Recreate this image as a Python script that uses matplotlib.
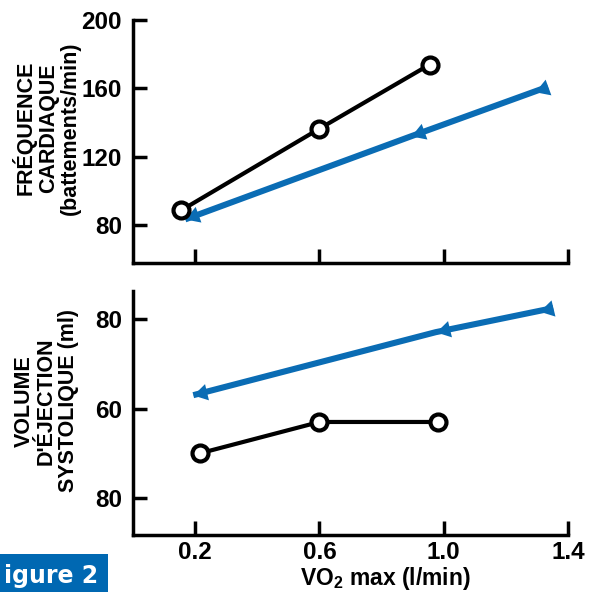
import numpy as np
import matplotlib
matplotlib.use("Agg")
import matplotlib.pyplot as plt
from matplotlib.markers import MarkerStyle
from matplotlib.path import Path
from matplotlib.transforms import Affine2D
from matplotlib.patches import Rectangle

# ---- data ----
xticks = [0.2, 0.6, 1.0, 1.4]
xtick_labels = ["0.2", "0.6", "1.0", "1.4"]

# top panel: heart rate
hr_black_x = [0.155, 0.6, 0.955]
hr_black_y = [88.8, 136.5, 174]
hr_blue_x = [1.335, 0.894, 0.168]
hr_blue_y = [161, 132, 83.5]
hr_ticks = [80, 120, 160, 200]
hr_tick_labels = ["80", "120", "160", "200"]

# bottom panel: stroke volume
sv_black_x = [0.216, 0.6, 0.98]
sv_black_y = [50, 57, 57]
sv_blue_x = [1.352, 0.974, 0.194]
sv_blue_y = [82.5, 77.1, 63]
sv_ticks = [80, 60, 40]
sv_tick_labels = ["80", "60", "80"]

BLUE = "#0a6cb4"
FONT = "Liberation Sans"
plt.rcParams["font.family"] = [FONT, "DejaVu Sans"]
plt.rcParams["font.weight"] = "bold"
plt.rcParams["font.stretch"] = "condensed"
plt.rcParams["mathtext.fontset"] = "custom"
plt.rcParams["mathtext.rm"] = FONT + ":weight=bold:stretch=condensed"
plt.rcParams["mathtext.bf"] = FONT + ":weight=bold:stretch=condensed"

fig = plt.figure(figsize=(5.96, 5.92), dpi=100)
ax1 = fig.add_axes([0.2232, 0.5557, 0.7299, 0.4105])
ax2 = fig.add_axes([0.2232, 0.0963, 0.7299, 0.4120])

ax1.set_ylim(58, 200)
ax2.set_ylim(31.7, 86.3)


def style(ax, yt, ylab, show_x):
    ax.set_xlim(0, 1.4)
    for s in ["top", "right"]:
        ax.spines[s].set_visible(False)
    for s in ["left", "bottom"]:
        ax.spines[s].set_linewidth(2.5)
    ax.set_xticks(xticks)
    ax.set_xticklabels(xtick_labels if show_x else [])
    ax.set_yticks(yt)
    ax.set_yticklabels(ylab)
    ax.tick_params(direction="in", length=10, width=2.5, labelsize=17.5, pad=4)
    ax.tick_params(axis="y", pad=8)


style(ax1, hr_ticks, hr_tick_labels, False)
style(ax2, sv_ticks, sv_tick_labels, True)


def tri(angle, tip_origin):
    if tip_origin:
        verts = [(0, 0), (1, 0.6), (1, -0.6), (0, 0)]
    else:
        verts = [(-1, 0), (0, 0.6), (0, -0.6), (-1, 0)]
    p = Path(verts, [Path.MOVETO, Path.LINETO, Path.LINETO, Path.CLOSEPOLY])
    return MarkerStyle(p, transform=Affine2D().rotate_deg(angle))


def blue_arrow(ax, xs, ys):
    ax.plot(xs, ys, color=BLUE, lw=4.4, solid_capstyle="butt", zorder=2)
    pts = ax.transData.transform(np.column_stack([xs, ys]))
    d = pts[0] - pts[-1]
    ang = np.degrees(np.arctan2(d[1], d[0]))
    ax.plot(xs[0], ys[0], marker=tri(ang, False), ms=20, color=BLUE, mew=0, zorder=3)
    ax.plot(xs[1], ys[1], marker=tri(ang, True), ms=20, color=BLUE, mew=0, zorder=3)
    ax.plot(xs[2], ys[2], marker=tri(ang, True), ms=20, color=BLUE, mew=0, zorder=3)


blue_arrow(ax1, hr_blue_x, hr_blue_y)
blue_arrow(ax2, sv_blue_x, sv_blue_y)

for ax, xs, ys in [(ax1, hr_black_x, hr_black_y), (ax2, sv_black_x, sv_black_y)]:
    ax.plot(xs, ys, color="black", lw=3.0, marker="o", ms=11.5, mfc="white",
            mec="black", mew=3.0, zorder=4)

fig.text(0.078, 1 - 128 / 592, "FRÉQUENCE\nCARDIAQUE\n(battements/min)",
         rotation=90, ha="center", va="center", fontsize=15.5,
         linespacing=1.08)
fig.text(0.078, 1 - 401 / 592, "VOLUME\nD'ÉJECTION\nSYSTOLIQUE (ml)",
         rotation=90, ha="center", va="center", fontsize=15.5,
         linespacing=1.08)

fig.text(385 / 596, 1 - 579 / 592, r"VO$_\mathbf{2}$ max (l/min)", ha="center",
         va="center", fontsize=16.5)

fig.patches.append(Rectangle((0, 0), 108 / 596, 38 / 592, transform=fig.transFigure,
                             facecolor="#0068b2", edgecolor="none", zorder=0))
fig.text(4 / 596, 9 / 592, "igure 2", color="white", fontsize=17,
         ha="left", va="baseline", family=["DejaVu Sans"], fontweight="bold",
         fontstretch="normal")

fig.savefig("out.png", dpi=100)
